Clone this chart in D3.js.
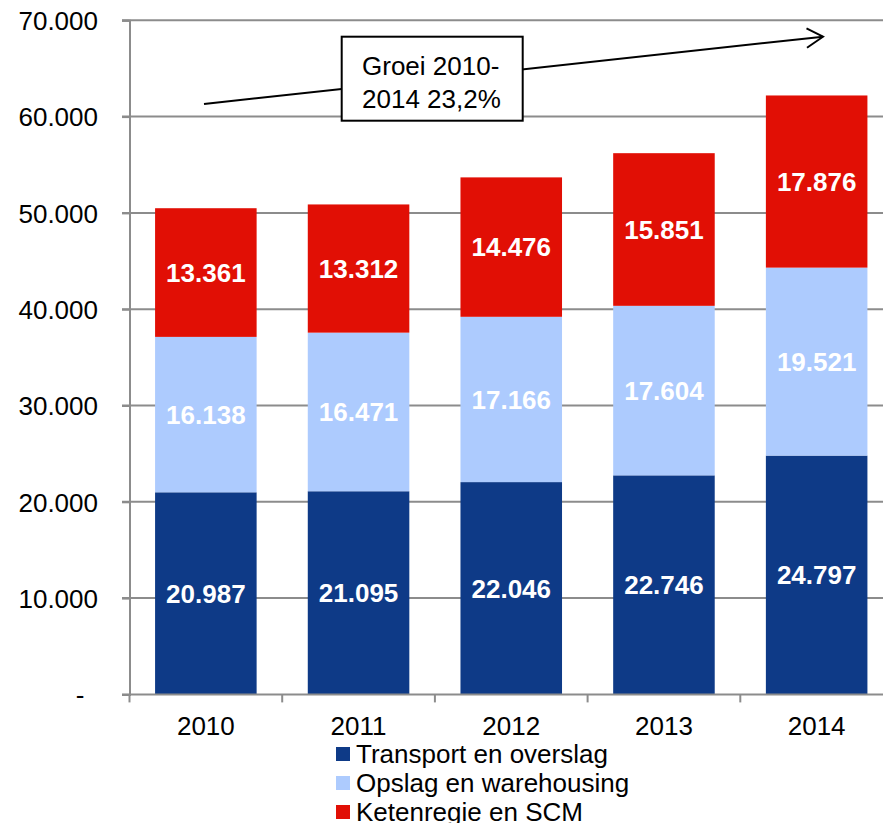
<!DOCTYPE html>
<html>
<head>
<meta charset="utf-8">
<script src="https://cdn.jsdelivr.net/npm/d3@7"></script>
<style>
	body { margin: 0; background: #fff; }
	svg { display: block; font-family: Arial, "Liberation Sans", sans-serif; }
</style>
</head>
<body>
<div id="chart"></div>
<script>
	///////////////////////////////////////////////////////////////////////////
	//////////////////////////////// Data /////////////////////////////////////
	///////////////////////////////////////////////////////////////////////////

	var years = ["2010", "2011", "2012", "2013", "2014"];
	var seriesNames = ["Transport en overslag", "Opslag en warehousing", "Ketenregie en SCM"];
	var transport = [20987, 21095, 22046, 22746, 24797];
	var opslag = [16138, 16471, 17166, 17604, 19521];
	var ketenregie = [13361, 13312, 14476, 15851, 17876];
	var yTicks = [0, 10000, 20000, 30000, 40000, 50000, 60000, 70000];
	var growthLabel = ["Groei 2010-", "2014 23,2%"];

	var colors = ["#0E3A87", "#ADCBFE", "#E10F05"];
	var fontSize = "26px";

	///////////////////////////////////////////////////////////////////////////
	//////////////////// Set up and initiate svg containers ///////////////////
	///////////////////////////////////////////////////////////////////////////

	var width = 883, height = 823;
	var svg = d3.select("#chart").append("svg")
		.attr("width", width)
		.attr("height", height);

	var x = d3.scaleBand()
		.domain(years)
		.range([129.5, 893])
		.paddingInner(0.335)
		.paddingOuter(0.1675);

	var y = d3.scaleLinear()
		.domain([0, 70000])
		.range([694.4, 20.3]);

	var fmt = function(v) {
		return v === 0 ? "-" : d3.format(",")(v).replace(/,/g, ".");
	};

	//Gridlines
	svg.append("g").selectAll("line")
		.data(yTicks.filter(function(d) { return d > 0; }))
		.enter().append("line")
		.attr("x1", 122).attr("x2", width)
		.attr("y1", function(d) { return y(d); })
		.attr("y2", function(d) { return y(d); })
		.style("stroke", "#8c8c8c")
		.style("stroke-width", 2);

	///////////////////////////////////////////////////////////////////////////
	//////////////////////////////// Bars /////////////////////////////////////
	///////////////////////////////////////////////////////////////////////////

	var table = years.map(function(yr, i) {
		return { year: yr, s0: transport[i], s1: opslag[i], s2: ketenregie[i] };
	});
	var stacked = d3.stack().keys(["s0", "s1", "s2"])(table);

	var layers = svg.selectAll(".layer")
		.data(stacked)
		.enter().append("g")
		.attr("class", "layer")
		.style("fill", function(d, i) { return colors[i]; });

	layers.selectAll("rect")
		.data(function(d) { return d; })
		.enter().append("rect")
		.attr("x", function(d) { return x(d.data.year); })
		.attr("width", x.bandwidth())
		.attr("y", function(d) { return y(d[1]); })
		.attr("height", function(d) { return y(d[0]) - y(d[1]); });

	layers.selectAll("text")
		.data(function(d) { return d.map(function(p) { return { p: p, key: d.key }; }); })
		.enter().append("text")
		.attr("x", function(d) { return x(d.p.data.year) + x.bandwidth() / 2; })
		.attr("y", function(d) { return (y(d.p[0]) + y(d.p[1])) / 2; })
		.attr("dy", "0.36em")
		.style("text-anchor", "middle")
		.style("font-size", fontSize)
		.style("font-weight", "bold")
		.style("fill", "#ffffff")
		.text(function(d) { return fmt(d.p.data[d.key]); });

	///////////////////////////////////////////////////////////////////////////
	//////////////////////////////// Axes /////////////////////////////////////
	///////////////////////////////////////////////////////////////////////////

	//Y axis
	var yAxis = svg.append("g")
		.attr("transform", "translate(129.5,0)")
		.call(d3.axisLeft(y).tickValues(yTicks).tickFormat(fmt).tickSize(7.5).tickPadding(24));
	yAxis.select(".domain").style("stroke", "#8c8c8c").style("stroke-width", 2);
	yAxis.selectAll(".tick line").style("stroke", "#8c8c8c").style("stroke-width", 2);
	yAxis.selectAll(".tick text")
		.style("font-size", fontSize)
		.style("font-family", "Arial, 'Liberation Sans', sans-serif")
		.style("fill", "#000")
		.attr("dy", "0.36em")
		.attr("x", function(d) { return d === 0 ? -45 : -31.5; });

	//X axis - ticks on the band boundaries
	var xAxisG = svg.append("g").attr("transform", "translate(0," + y(0) + ")");
	xAxisG.append("line")
		.attr("x1", 122).attr("x2", width)
		.style("stroke", "#8c8c8c").style("stroke-width", 2);
	xAxisG.selectAll(".xtick")
		.data(years)
		.enter().append("line")
		.attr("class", "xtick")
		.attr("x1", function(d) { return x(d) - x.step() * x.paddingOuter(); })
		.attr("x2", function(d) { return x(d) - x.step() * x.paddingOuter(); })
		.attr("y1", 0).attr("y2", 8)
		.style("stroke", "#8c8c8c").style("stroke-width", 2);
	xAxisG.selectAll(".xlabel")
		.data(years)
		.enter().append("text")
		.attr("x", function(d) { return x(d) + x.bandwidth() / 2; })
		.attr("y", 41)
		.style("text-anchor", "middle")
		.style("font-size", fontSize)
		.text(function(d) { return d; });

	///////////////////////////////////////////////////////////////////////////
	/////////////////////////////// Legend ////////////////////////////////////
	///////////////////////////////////////////////////////////////////////////

	var legend = svg.append("g").attr("transform", "translate(336,754)");
	var items = legend.selectAll("g")
		.data(seriesNames)
		.enter().append("g")
		.attr("transform", function(d, i) { return "translate(0," + (i * 29) + ")"; });
	items.append("rect")
		.attr("x", 0).attr("y", -7)
		.attr("width", 14).attr("height", 14)
		.style("fill", function(d, i) { return colors[i]; });
	items.append("text")
		.attr("x", 20)
		.attr("dy", "0.36em")
		.style("font-size", fontSize)
		.text(function(d) { return d; });

	///////////////////////////////////////////////////////////////////////////
	///////////////////////////// Annotation //////////////////////////////////
	///////////////////////////////////////////////////////////////////////////

	var ann = svg.append("g");
	ann.append("line")
		.attr("x1", 204).attr("y1", 104)
		.attr("x2", 823).attr("y2", 36.7)
		.style("stroke", "#000").style("stroke-width", 2);
	ann.append("path")
		.attr("d", "M806.5,28.3 L823,36.7 L807,47.7")
		.style("fill", "none").style("stroke", "#000").style("stroke-width", 2);

	ann.append("rect")
		.attr("x", 341.7).attr("y", 36.7)
		.attr("width", 181).attr("height", 84)
		.style("fill", "#fff").style("stroke", "#000").style("stroke-width", 2);
	ann.selectAll(".ann-text")
		.data(growthLabel)
		.enter().append("text")
		.attr("x", 362)
		.attr("y", function(d, i) { return 74.5 + i * 33; })
		.style("font-size", fontSize)
		.text(function(d) { return d; });
</script>
</body>
</html>
